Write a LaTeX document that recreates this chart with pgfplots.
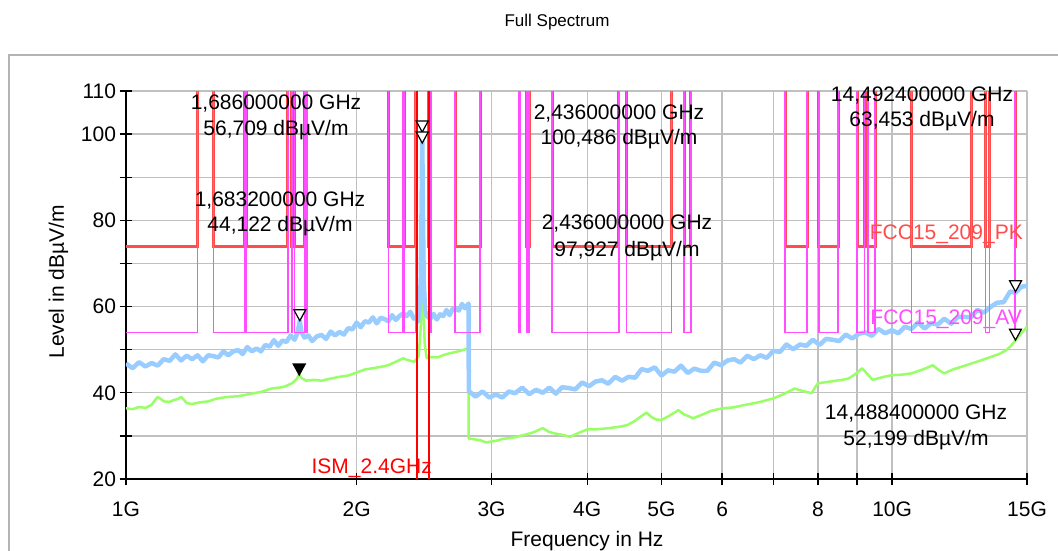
\documentclass[border=0pt]{standalone}
\usepackage{pgfplots}
\pgfplotsset{compat=1.18}
\usepackage{pgfplotstable}
\usepackage{fontspec}
\setmainfont{Liberation Sans}
\definecolor{pkred}{RGB}{255,77,77}
\definecolor{avmag}{RGB}{255,77,255}
\definecolor{pkblue}{RGB}{153,204,255}
\definecolor{avgreen}{RGB}{153,255,102}
\definecolor{gridgray}{RGB}{192,192,192}
\definecolor{framegray}{RGB}{180,180,180}
\pgfdeclareplotmark{dtri}{%
  \pgfpathmoveto{\pgfpoint{0bp}{0bp}}%
  \pgfpathlineto{\pgfpoint{-6bp}{11bp}}%
  \pgfpathlineto{\pgfpoint{6bp}{11bp}}%
  \pgfpathclose
  \pgfusepathqfillstroke}
\newcommand{\F}{\fontsize{21bp}{25.5bp}\selectfont}

% restricted-band limit lines (GHz, PK, AV); 130 = no limit (off scale)
\pgfplotstableread{
f pk av
1 74 54
1.24 74 54
1.24 130 130
1.3 130 130
1.3 74 54
1.427 74 54
1.427 130 130
1.435 130 130
1.435 74 54
1.6265 74 54
1.6265 130 130
1.6455 130 130
1.6455 74 54
1.6465 74 54
1.6465 130 130
1.66 130 130
1.66 74 54
1.71 74 54
1.71 130 130
1.7188 130 130
1.7188 74 54
1.7222 74 54
1.7222 130 130
2.2 130 130
2.2 74 54
2.3 74 54
2.3 130 130
2.31 130 130
2.31 74 54
2.39 74 54
2.39 130 130
2.4835 130 130
2.4835 74 54
2.5 74 54
2.5 130 130
2.69 130 130
2.69 74 54
2.9 74 54
2.9 130 130
3.26 130 130
3.26 74 54
3.267 74 54
3.267 130 130
3.332 130 130
3.332 74 54
3.339 74 54
3.339 130 130
3.3458 130 130
3.3458 74 54
3.358 74 54
3.358 130 130
3.6 130 130
3.6 74 54
4.4 74 54
4.4 130 130
4.5 130 130
4.5 74 54
5.15 74 54
5.15 130 130
5.35 130 130
5.35 74 54
5.46 74 54
5.46 130 130
7.25 130 130
7.25 74 54
7.75 74 54
7.75 130 130
8.025 130 130
8.025 74 54
8.5 74 54
8.5 130 130
9.0 130 130
9.0 74 54
9.2 74 54
9.2 130 130
9.3 130 130
9.3 74 54
9.5 74 54
9.5 130 130
10.6 130 130
10.6 74 54
12.7 74 54
12.7 130 130
13.25 130 130
13.25 74 54
13.4 74 54
13.4 130 130
14.47 130 130
14.47 74 54
14.5 74 54
14.5 130 130
15 130 130
}\limits

\begin{document}
\begin{tikzpicture}
\useasboundingbox (-126bp,-72bp) rectangle (932bp,479bp);
\draw[framegray, line width=2bp] (-116.5bp,-120bp) rectangle (960bp,424bp);
\node[font=\fontsize{17bp}{20bp}\selectfont, anchor=base] at (431bp,452bp) {Full Spectrum};
\begin{axis}[
  at={(0,0)}, anchor=south west,
  scale only axis, width=901bp, height=388bp,
  xmode=log, xmin=1, xmax=15, ymin=20, ymax=110,
  axis lines=left, axis line style={-, line width=1.3bp, black},
  xtick={1,2,3,4,5,6,7,8,9,10,15},
  xticklabels={1G,2G,3G,4G,5G,6,{},8,{},10G,15G},
  ytick={20,30,40,50,60,70,80,90,100,110},
  yticklabels={20,{},40,{},60,{},80,{},100,110},
  xminorticks=false, yminorticks=false,
  tick align=center, major tick length=13bp,
  every tick/.style={black, line width=1.3bp},
  grid=major, major grid style={gridgray, line width=1.3bp},
  tick label style={font=\F},
  /pgf/number format/assume math mode=true,
  xticklabel style={yshift=-13bp},
  xlabel={Frequency in Hz}, ylabel={Level in dBµV/m},
  every axis x label/.style={at={(axis description cs:0.5117,-0.1598)},anchor=center,font=\F},
  every axis y label/.style={at={(axis description cs:-0.0751,0.508)},rotate=90,anchor=center,font=\F},
]
% average trace
\addplot[avgreen, line width=2.5bp, line join=round] coordinates {
(1.00,36.4)(1.02,36.2)(1.04,36.7)(1.06,36.5)(1.08,37.2)(1.09,38.2)(1.10,39.0)(1.11,38.6)(1.12,38.0)(1.14,37.9)(1.15,38.2)(1.17,38.6)(1.18,39.0)(1.19,38.4)(1.20,37.6)(1.22,37.4)(1.25,37.8)(1.28,38.0)(1.31,38.6)(1.35,39.0)(1.40,39.2)(1.45,39.7)(1.50,40.2)(1.55,41.0)(1.60,41.3)(1.62,41.6)(1.65,42.3)(1.67,43.2)(1.683,44.3)(1.695,43.4)(1.72,42.8)(1.76,43.0)(1.80,42.8)(1.85,43.3)(1.90,43.7)(1.95,44.0)(2.00,44.7)(2.05,45.4)(2.10,45.7)(2.15,46.0)(2.20,46.4)(2.25,47.2)(2.30,48.0)(2.33,47.6)(2.38,47.2)(2.41,48.5)(2.425,55)(2.432,80)(2.436,97.9)(2.440,80)(2.447,57)(2.455,51.0)(2.47,48.0)(2.50,48.3)(2.55,48.2)(2.60,48.8)(2.65,49.2)(2.70,49.5)(2.75,49.9)(2.80,50.3)(2.801,29.4)(2.85,29.2)(2.90,29.0)(2.95,28.5)(3.00,28.7)(3.05,28.9)(3.10,29.3)(3.17,29.5)(3.24,29.8)(3.32,30.3)(3.40,30.8)(3.50,31.8)(3.56,31.0)(3.62,30.6)(3.70,30.3)(3.80,29.8)(3.90,30.7)(4.00,31.5)(4.10,31.5)(4.27,31.8)(4.40,32.1)(4.51,32.5)(4.60,33.3)(4.70,34.5)(4.78,35.4)(4.85,34.4)(4.92,33.8)(5.00,33.7)(5.10,34.5)(5.20,35.4)(5.26,36.0)(5.35,35.0)(5.50,34.1)(5.65,34.9)(5.80,35.8)(6.00,36.4)(6.20,36.6)(6.43,37.2)(6.70,37.8)(7.00,38.7)(7.20,39.6)(7.46,41.0)(7.65,40.4)(7.85,39.9)(8.00,42.2)(8.30,42.6)(8.60,43.0)(8.77,43.3)(8.95,44.3)(9.14,45.7)(9.30,44.2)(9.43,43.0)(9.70,43.6)(10.0,44.1)(10.3,44.2)(10.6,44.5)(11.0,45.5)(11.3,46.4)(11.5,45.3)(11.7,44.5)(12.0,45.4)(12.5,46.4)(12.9,47.2)(13.4,48.2)(13.8,49.0)(14.1,49.9)(14.3,50.9)(14.49,52.2)(14.7,53.5)(15.0,55.3)
};
% peak trace
\addplot[pkblue, line width=4.5bp, line join=round] coordinates {
(1.00,46.8)(1.02,45.7)(1.04,47.1)(1.06,46.1)(1.08,46.9)(1.10,46.3)(1.12,47.8)(1.14,47.4)(1.16,48.9)(1.18,47.5)(1.20,48.6)(1.22,47.8)(1.24,48.7)(1.26,47.3)(1.28,48.7)(1.30,48.5)(1.32,48.2)(1.34,49.6)(1.36,48.7)(1.38,49.6)(1.40,49.9)(1.42,49.0)(1.44,50.6)(1.46,49.6)(1.48,50.3)(1.50,49.6)(1.52,51.1)(1.54,50.7)(1.56,52.2)(1.58,50.9)(1.60,52.1)(1.62,51.8)(1.64,53.3)(1.66,52.3)(1.675,54.0)(1.686,56.7)(1.695,54.0)(1.71,52.8)(1.73,53.3)(1.75,52.0)(1.775,53.1)(1.80,53.4)(1.825,52.5)(1.85,54.2)(1.875,53.3)(1.90,54.1)(1.925,53.5)(1.95,55.0)(1.975,54.7)(2.00,56.3)(2.025,55.2)(2.05,56.6)(2.075,56.3)(2.10,57.5)(2.125,56.1)(2.15,57.4)(2.175,57.1)(2.20,56.6)(2.225,58.0)(2.25,56.9)(2.275,57.8)(2.30,58.4)(2.325,57.8)(2.35,58.8)(2.375,57.2)(2.39,57.5)(2.405,56.5)(2.415,59.0)(2.425,66)(2.432,85)(2.436,100.5)(2.440,85)(2.447,66)(2.457,59.0)(2.47,57.8)(2.495,57.1)(2.52,58.3)(2.545,57.0)(2.57,58.2)(2.595,57.8)(2.62,59.2)(2.645,58.0)(2.67,59.5)(2.695,59.4)(2.72,59.1)(2.745,60.6)(2.77,59.6)(2.80,60.7)
(2.802,40.4)(2.86,39.1)(2.92,40.3)(2.98,38.9)(3.04,39.6)(3.10,38.9)(3.16,40.3)(3.22,39.9)(3.29,41.2)(3.36,39.7)(3.43,40.7)(3.50,40.0)(3.57,41.2)(3.64,39.8)(3.71,41.3)(3.78,41.1)(3.86,40.8)(3.94,42.4)(4.02,41.5)(4.10,42.6)(4.18,42.9)(4.26,42.1)(4.35,43.7)(4.44,42.8)(4.53,43.7)(4.62,43.5)(4.71,45.5)(4.80,45.1)(4.90,45.9)(5.00,44.0)(5.10,45.2)(5.20,44.9)(5.30,46.3)(5.41,44.6)(5.52,45.6)(5.63,45.1)(5.74,45.1)(5.86,47.0)(5.98,46.4)(6.10,47.5)(6.22,47.8)(6.34,47.0)(6.47,48.6)(6.60,47.8)(6.73,48.7)(6.86,48.1)(7.00,49.7)(7.14,49.5)(7.28,51.2)(7.43,50.1)(7.58,51.2)(7.73,50.9)(7.88,52.3)(8.04,51.1)(8.20,52.5)(8.36,52.3)(8.53,52.0)(8.70,53.5)(8.87,52.6)(9.05,53.7)(9.23,54.0)(9.41,53.2)(9.60,54.8)(9.79,53.8)(9.99,54.5)(10.19,53.8)(10.39,55.3)(10.60,54.8)(10.81,56.3)(11.03,54.9)(11.25,56.2)(11.47,55.8)(11.70,57.2)(11.94,56.0)(12.18,57.6)(12.42,57.6)(12.67,57.5)(12.92,59.2)(13.18,58.6)(13.44,59.9)(13.71,60.9)(13.98,61.0)(14.26,63.5)(14.49,63.2)(14.75,64.6)(15.0,64.8)
};
% limit lines
\addplot[pkred, line width=3bp] table[x=f, y=pk] {\limits};
\addplot[avmag, line width=1.5bp] table[x=f, y=av] {\limits};
% ISM band edges
\addplot[red, line width=2bp] coordinates {(2.4,20)(2.4,110)};
\addplot[red, line width=2bp] coordinates {(2.4835,20)(2.4835,110)};
% markers
\addplot[only marks, mark=dtri, mark options={draw=black, fill=white, line width=1.2bp}] coordinates {(1.686,56.709)(2.436,100.486)(2.436,97.927)(14.4924,63.453)(14.4884,52.199)};
\addplot[only marks, mark=dtri, mark options={draw=black, fill=black, line width=1.2bp}] coordinates {(1.6832,44.122)};
\end{axis}
% marker readouts
\node[font=\F, anchor=base] at (150bp,369bp) {1,686000000 GHz};
\node[font=\F, anchor=base] at (150bp,343.5bp) {56,709 dBµV/m};
\node[font=\F, anchor=base] at (154bp,272.3bp) {1,683200000 GHz};
\node[font=\F, anchor=base] at (154bp,247.3bp) {44,122 dBµV/m};
\node[font=\F, anchor=base] at (493bp,359bp) {2,436000000 GHz};
\node[font=\F, anchor=base] at (493bp,334bp) {100,486 dBµV/m};
\node[font=\F, anchor=base] at (501bp,249bp) {2,436000000 GHz};
\node[font=\F, anchor=base] at (501bp,222.3bp) {97,927 dBµV/m};
\node[font=\F, anchor=base] at (796bp,377bp) {14,492400000 GHz};
\node[font=\F, anchor=base] at (796bp,352bp) {63,453 dBµV/m};
\node[font=\F, anchor=base] at (790bp,59bp) {14,488400000 GHz};
\node[font=\F, anchor=base] at (790bp,34bp) {52,199 dBµV/m};
% limit and band names
\node[font=\F, anchor=base east, inner sep=0pt, text=red] at (306bp,6bp) {ISM\_2.4GHz};
\node[font=\F, anchor=base east, inner sep=0pt, text=pkred] at (897bp,239bp) {FCC15\_209\_PK};
\node[font=\F, anchor=base east, inner sep=0pt, text=avmag] at (896bp,154bp) {FCC15\_209\_AV};
\end{tikzpicture}
\end{document}
